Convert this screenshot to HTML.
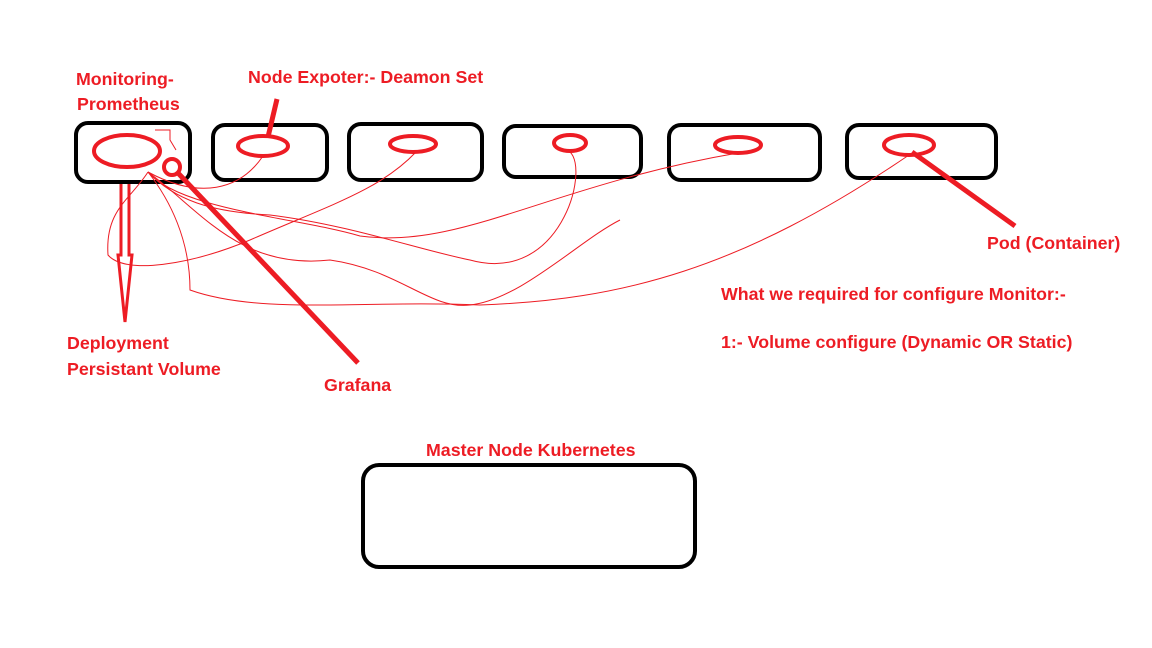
<!DOCTYPE html>
<html><head><style>
body{margin:0;width:1152px;height:648px;background:#fff;overflow:hidden}
svg{display:block}
text{font-family:"Liberation Sans",sans-serif;font-weight:bold;font-size:17.8px;fill:#ed1c24}
</style></head><body>
<svg width="1152" height="648" viewBox="0 0 1152 648">
<g fill="none" stroke="#000" stroke-width="4">
<rect x="76" y="123" width="114" height="59" rx="12"/>
<rect x="213" y="125" width="114" height="55" rx="12"/>
<rect x="349" y="124" width="133" height="56" rx="12"/>
<rect x="504" y="126" width="137" height="51" rx="12"/>
<rect x="669" y="125" width="151" height="55" rx="12"/>
<rect x="847" y="125" width="149" height="53" rx="12"/>
<rect x="363" y="465" width="332" height="102" rx="16"/>
</g>
<g fill="none" stroke="#ed1c24" stroke-width="4">
<ellipse cx="127" cy="151" rx="33" ry="16"/>
<ellipse cx="263" cy="146" rx="25" ry="10"/>
<ellipse cx="413" cy="144" rx="23" ry="8"/>
<ellipse cx="570" cy="143" rx="16" ry="8"/>
<ellipse cx="738" cy="145" rx="23" ry="8"/>
<ellipse cx="909" cy="145" rx="25" ry="10"/>
<circle cx="172" cy="167" r="8"/>
</g>
<g stroke="#ed1c24" stroke-width="5" fill="none">
<line x1="178" y1="173" x2="358" y2="363"/>
<line x1="912" y1="152" x2="1015" y2="226"/>
<line x1="268" y1="137" x2="277" y2="99"/>
</g>
<g stroke="#ed1c24" stroke-width="3" fill="none">
<path d="M121 184 V255 L118 255 L125 322 L132 255 L129 255 V184"/>
</g>
<g stroke="#ed1c24" stroke-width="1" fill="none">
<path d="M155 130 H170 V140 L176 150"/>
<path d="M148 172 C130 200 105 210 108 255 C125 275 190 265 250 240 C330 205 380 190 416 152"/>
<path d="M148 172 C175 200 210 212 270 215 C350 225 420 250 470 260 C560 285 590 170 570 152"/>
<path d="M148 172 C180 210 300 218 360 236 C460 250 550 185 738 153"/>
<path d="M148 172 C170 200 190 240 190 290 C260 315 360 300 480 305 C620 300 740 270 909 155"/>
<path d="M148 172 C200 210 240 270 330 260 C400 270 430 310 470 305 C520 300 580 240 620 220"/>
<path d="M148 172 C200 200 240 190 263 156"/>
</g>
<text x="76" y="85">Monitoring-</text>
<text x="77" y="110">Prometheus</text>
<text x="248" y="83">Node Expoter:- Deamon Set</text>
<text x="987" y="249">Pod (Container)</text>
<text x="721" y="300">What we required for configure Monitor:-</text>
<text x="721" y="348">1:- Volume configure (Dynamic OR Static)</text>
<text x="67" y="349">Deployment</text>
<text x="67" y="375">Persistant Volume</text>
<text x="324" y="391">Grafana</text>
<text x="426" y="456">Master Node Kubernetes</text>
</svg>
</body></html>
